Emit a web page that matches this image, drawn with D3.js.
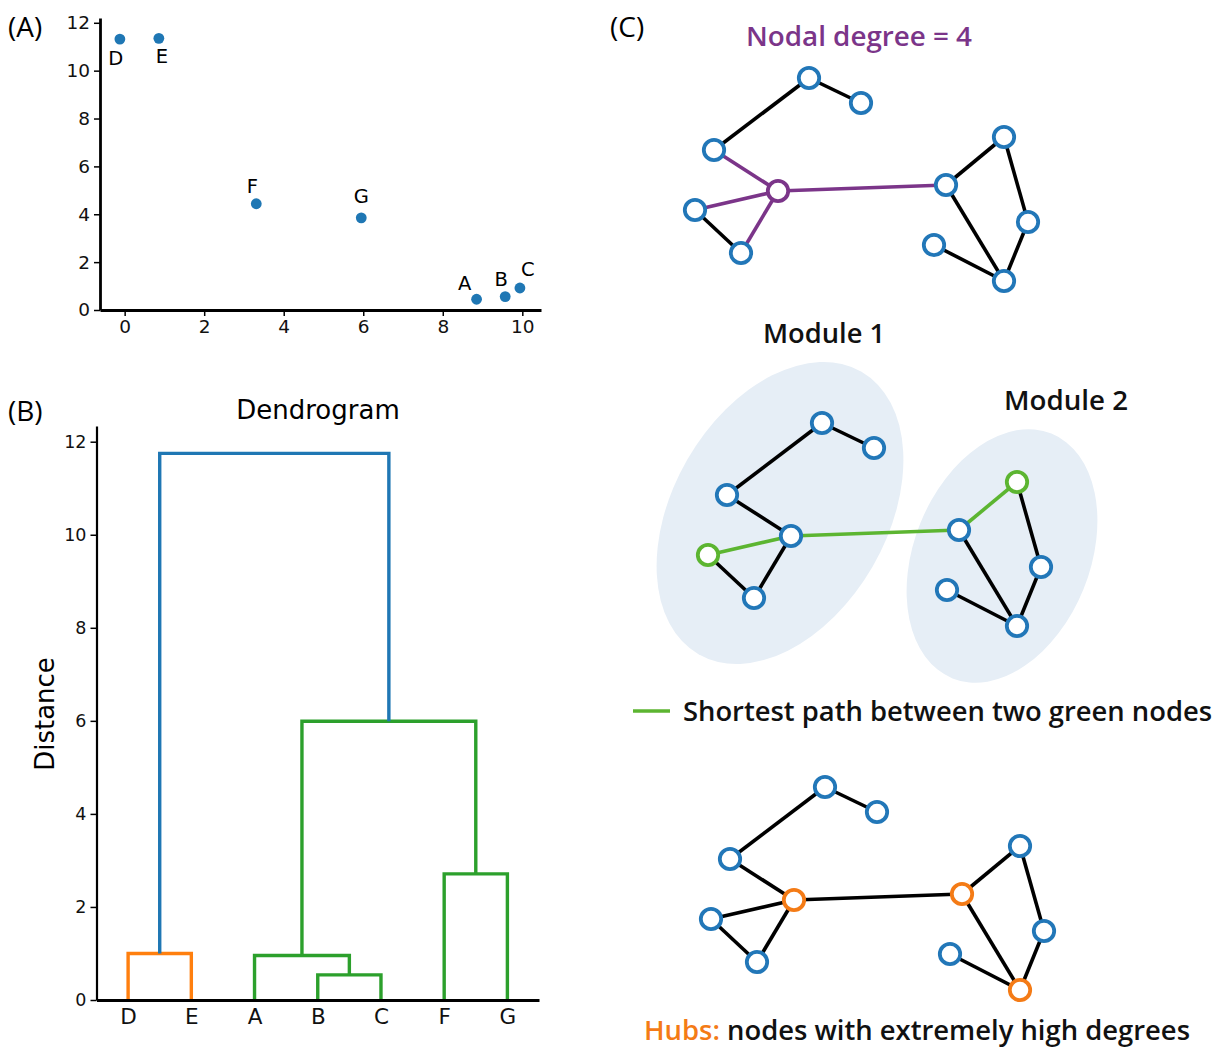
<!DOCTYPE html>
<html><head><meta charset="utf-8">
<script src="https://cdn.jsdelivr.net/npm/d3@7"></script>
<style>body{margin:0;background:#fff} svg{display:block}</style>
</head><body>
<svg id="c" width="1223" height="1048"></svg>
<script>
// ---------- Panel A data ----------
const pointLabels = ["A","B","C","D","E","F","G"];
const pointX = [8.85, 9.57, 9.94, -0.12, 0.86, 3.31, 5.95];
const pointY = [0.45, 0.56, 0.92, 11.32, 11.35, 4.44, 3.85];
const scatterXTicks = [0,2,4,6,8,10];
const scatterYTicks = [0,2,4,6,8,10,12];

// ---------- Panel B data ----------
const leafOrder = ["D","E","A","B","C","F","G"];
const mergeLeft   = ["B","A","D","F","A+B+C","D+E"];
const mergeRight  = ["C","B+C","E","G","F+G","A+B+C+F+G"];
const mergeHeight = [0.54, 0.955, 1.0, 2.71, 5.99, 11.75];
const mergeGroup  = ["g","g","o","g","g","b"];
const dendroYTicks = [0,2,4,6,8,10,12];

// ---------- Panel C data ----------
const netNodeX = [119,171,24,88,5,51,256,314,338,244,314];
const netNodeY = [8,33,80,121,140,183,115,67,152,175,211];
const netEdges = [[0,1],[0,2],[2,3],[3,4],[3,5],[4,5],[3,6],[6,7],[7,8],[8,10],[6,10],[9,10]];
const degreeNode = 3;
const pathNodes = [4,7];
const pathEdges = [[3,4],[3,6],[6,7]];
const hubNodes = [3,6,10];

const C = {blue:"#1f77b4", orange:"#ff7f0e", green:"#2ca02c",
  node:"#2277b8", purple:"#7b3589", lime:"#5cb531", hub:"#f47b16", modFill:"#e6eef6"};
const svg = d3.select("#c");
const MPL = "'DejaVu Sans', sans-serif", OS = "'Open Sans', 'Noto Sans', sans-serif";

function panelLabel(t,x,y){
  svg.append("text").attr("x",x).attr("y",y).attr("font-family",OS).attr("font-size",28).text(t);
}
function label(x,y,t,opts){
  const el = svg.append("text").attr("x",x).attr("y",y).attr("font-family",OS)
    .attr("font-weight",600).attr("font-size",27).attr("fill",opts.fill||"#111").text(t);
  if(opts.anchor) el.attr("text-anchor",opts.anchor);
  if(opts.len) el.attr("textLength",opts.len).attr("lengthAdjust","spacingAndGlyphs");
  return el;
}

// ================= Panel A =================
{
  const x = d3.scaleLinear().domain([-0.62,10.47]).range([100,541]);
  const y = d3.scaleLinear().domain([0,12.2]).range([310,18]);
  const g = svg.append("g");
  const ax = g.append("g").attr("transform","translate(0,310)")
    .call(d3.axisBottom(x).tickValues(scatterXTicks).tickSize(6).tickSizeOuter(0).tickPadding(4));
  const ay = g.append("g").attr("transform","translate(100,0)")
    .call(d3.axisLeft(y).tickValues(scatterYTicks).tickSize(6).tickSizeOuter(0).tickPadding(4));
  [ax,ay].forEach(a=>{
    a.select(".domain").attr("stroke","#000").attr("stroke-width",2.8);
    a.selectAll(".tick line").attr("stroke","#000").attr("stroke-width",1.5);
    a.selectAll(".tick text").attr("font-family",MPL).attr("font-size",18.5).attr("fill","#111");
  });
  const off = {A:[-12,-9],B:[-4,-11],C:[8,-12],D:[-4,26],E:[3,25],F:[-4,-11],G:[0,-15]};
  pointLabels.forEach((l,i)=>{
    g.append("circle").attr("cx",x(pointX[i])).attr("cy",y(pointY[i])).attr("r",5.4).attr("fill",C.blue);
    g.append("text").attr("x",x(pointX[i])+off[l][0]).attr("y",y(pointY[i])+off[l][1])
      .attr("text-anchor","middle").attr("font-family",MPL).attr("font-size",19.5).text(l);
  });
  panelLabel("(A)",8,37);
}

// ================= Panel B =================
{
  const x = d3.scaleLinear().domain([0,70]).range([96.5,539]);
  const y = d3.scaleLinear().domain([0,12.3375]).range([1000,426]);
  const g = svg.append("g");
  const pos = {};
  leafOrder.forEach((l,i)=>{ pos[l] = {x:i*10+5, h:0}; });
  const col = {g:C.green,o:C.orange,b:C.blue};
  mergeLeft.forEach((L,i)=>{
    const R = mergeRight[i], h = mergeHeight[i], a = pos[L], b = pos[R];
    const p = d3.path();
    p.moveTo(x(a.x),y(a.h)); p.lineTo(x(a.x),y(h)); p.lineTo(x(b.x),y(h)); p.lineTo(x(b.x),y(b.h));
    g.append("path").attr("d",p.toString()).attr("fill","none").attr("stroke",col[mergeGroup[i]])
      .attr("stroke-width",3.4).attr("stroke-linejoin","miter");
    pos[L+"+"+R] = {x:(a.x+b.x)/2, h:h};
  });
  const ax = g.append("g").attr("transform","translate(0,1000)")
    .call(d3.axisBottom(x).tickValues(leafOrder.map((l,i)=>i*10+5)).tickFormat((d,i)=>leafOrder[i]).tickSize(0).tickSizeOuter(0).tickPadding(9));
  const ay = g.append("g").attr("transform","translate(96.5,0)")
    .call(d3.axisLeft(y).tickValues(dendroYTicks).tickSize(6).tickSizeOuter(0).tickPadding(4));
  ax.select(".domain").attr("stroke","#000").attr("stroke-width",2.8);
  ay.select(".domain").attr("stroke","#000").attr("stroke-width",2.2);
  ay.selectAll(".tick line").attr("stroke","#000").attr("stroke-width",1.5);
  ay.selectAll(".tick text").attr("font-family",MPL).attr("font-size",17.5).attr("fill","#111");
  ax.selectAll(".tick text").attr("font-family",MPL).attr("font-size",21.5).attr("fill","#111");
  svg.append("text").attr("x",318).attr("y",419).attr("text-anchor","middle")
    .attr("font-family",MPL).attr("font-size",26).text("Dendrogram");
  svg.append("text").attr("transform","translate(54,714) rotate(-90)").attr("text-anchor","middle")
    .attr("font-family",MPL).attr("font-size",26).text("Distance");
  panelLabel("(B)",8,421);
}

// ================= Panel C =================
panelLabel("(C)",610,37);

function drawNet(dx, dy, edgeColor, nodeColor, fillColor){
  const sx = d3.scaleLinear().domain([0,340]).range([690+dx,1030+dx]);
  const sy = d3.scaleLinear().domain([0,211]).range([70+dy,281+dy]);
  const g = svg.append("g");
  netEdges.forEach(e=>{
    g.append("line").attr("x1",sx(netNodeX[e[0]])).attr("y1",sy(netNodeY[e[0]]))
      .attr("x2",sx(netNodeX[e[1]])).attr("y2",sy(netNodeY[e[1]]))
      .attr("stroke",edgeColor(e)).attr("stroke-width",3.6);
  });
  netNodeX.forEach((v,i)=>{
    g.append("circle").attr("cx",sx(v)).attr("cy",sy(netNodeY[i])).attr("r",10.2)
      .attr("fill",fillColor).attr("stroke",nodeColor(i)).attr("stroke-width",3.8);
  });
}

// Network 1 – nodal degree
label(746,46,"Nodal degree = 4",{fill:C.purple,len:226});
drawNet(0,0, e=> (e[0]===degreeNode||e[1]===degreeNode)? C.purple : "#000",
  i=> i===degreeNode? C.purple : C.node, "#fff");

// Network 2 – modules
svg.append("ellipse").attr("cx",780).attr("cy",513).attr("rx",107).attr("ry",163)
  .attr("transform","rotate(30,780,513)").attr("fill",C.modFill);
svg.append("ellipse").attr("cx",1002).attr("cy",556).attr("rx",88).attr("ry",132)
  .attr("transform","rotate(22,1002,556)").attr("fill",C.modFill);
label(763,343,"Module 1",{len:122});
label(1004,410,"Module 2",{len:124});
const isPath = e => pathEdges.some(p=>(p[0]===e[0]&&p[1]===e[1])||(p[0]===e[1]&&p[1]===e[0]));
drawNet(13,345, e=> isPath(e)? C.lime : "#000", i=> pathNodes.includes(i)? C.lime : C.node, "#fff");
svg.append("line").attr("x1",633).attr("x2",670).attr("y1",711).attr("y2",711)
  .attr("stroke",C.lime).attr("stroke-width",3.6);
label(683,721,"Shortest path between two green nodes",{len:529});

// Network 3 – hubs
drawNet(16,709, e=>"#000", i=> hubNodes.includes(i)? C.hub : C.node, "#fff");
label(644,1040,"Hubs:",{fill:C.hub,len:76});
label(727,1040,"nodes with extremely high degrees",{len:463});
</script>
</body></html>
